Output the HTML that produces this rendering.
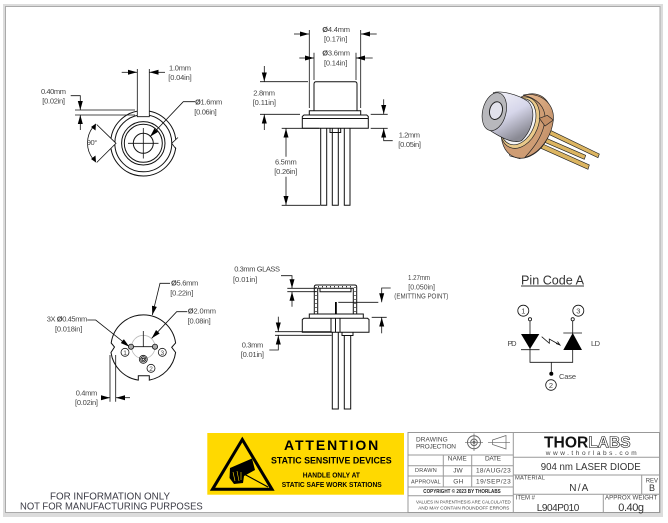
<!DOCTYPE html>
<html><head><meta charset="utf-8"><style>
html,body{margin:0;padding:0;background:#fff}
svg{display:block;filter:blur(.3px)}
text{font-family:"Liberation Sans",sans-serif;font-size:7.5px;fill:#444}
.l{stroke:#111;stroke-width:.8;fill:none}
.t{stroke:#111;stroke-width:1;fill:none}
.b{stroke:#999;stroke-width:1;fill:none}
.h text{font-size:6.5px;fill:#444}
</style></head><body>
<svg width="668" height="523" viewBox="0 0 668 523" xmlns="http://www.w3.org/2000/svg">
<defs>
<marker id="a" markerWidth="9" markerHeight="6" refX="9" refY="3" orient="auto" markerUnits="userSpaceOnUse"><path d="M0 .5L9 3L0 5.5z" fill="#000"/></marker>
<linearGradient id="cap" x1="0" y1="0" x2=".5" y2="1"><stop offset="0" stop-color="#f6f6fb"/><stop offset=".55" stop-color="#d6d6ea"/><stop offset="1" stop-color="#8a8a94"/></linearGradient>
<linearGradient id="cop" x1="0" y1="0" x2="1" y2="1"><stop offset="0" stop-color="#e8b98f"/><stop offset="1" stop-color="#b98660"/></linearGradient>
</defs>
<!-- frame -->
<rect x="0" y="0" width="668" height="523" fill="#fff"/>
<rect x="3" y="4" width="660" height="513" fill="#dcdcdc"/>
<rect x="5.5" y="6.5" width="654.5" height="506" fill="#fff" stroke="#aaa" stroke-width="1"/>

<!-- TOP-LEFT VIEW -->
<g class="t">
<circle cx="143.3" cy="143.3" r="32.7"/><circle cx="143.3" cy="143.3" r="28.5"/>
<circle cx="143.3" cy="143.3" r="21.7"/><circle cx="143.3" cy="143.3" r="19"/><circle cx="143.3" cy="143.3" r="10"/>
</g>
<path d="M137.3 105H149.3V116.7H137.3z" fill="#fff"/>
<path d="M116 143.3L105 132V155z" fill="#fff"/>
<path d="M172 143.3L180 135V152z" fill="#fff"/>
<g class="l">
<path d="M137.3 69V116.7H149.3V69"/>
<path d="M121.7 72.3H137" marker-end="url(#a)"/><path d="M165 72.3H149.5" marker-end="url(#a)"/>
<path d="M75 110H135M75 115H135"/>
<path d="M70.7 95.7H80.3V110" marker-end="url(#a)"/><path d="M80.3 130V115" marker-end="url(#a)"/>
<path d="M195 101.7H183.3L150 136.7" marker-end="url(#a)"/>
<path d="M96.7 124.5L116 143.3L96.7 162.5"/>
<path d="M93 127A26 26 0 0 0 93 159"/>
<path d="M178 137.5L171.7 143.3L176 149"/>
<path d="M128 143.3H158.5M143.3 128V158.5"/>
</g>
<path d="M91 127l5 -3.5l-.5 7zM91 159l5 3.5l-.5 -7z" fill="#000"/>
<text x="169" y="70.7" textLength="22">1.0mm</text><text x="168.3" y="80" textLength="23.4">[0.04in]</text>
<text x="41" y="94" textLength="25">0.40mm</text><text x="42.3" y="103.3" textLength="22.7">[0.02in]</text>
<text x="195" y="104.7" textLength="27.3"><tspan font-weight="bold">Ø</tspan>1.6mm</text><text x="194.3" y="114.3" textLength="22.4">[0.06in]</text>
<text x="86.7" y="145" textLength="10.6">90°</text>

<!-- TOP-MIDDLE SIDE VIEW -->
<g class="t">
<path d="M314 110.7V84Q314 81.7 316 81.7H355Q357 81.7 357 84V110.7"/>
<path d="M309.3 115V110.7H360.7V115"/>
<path d="M302.3 128.3V116.5L304 115H366.7L368.3 116.5V128.3z"/>
<path d="M302.3 118.5H368.3"/>
<path d="M320.7 128.3V205.3H326.7V128.3M332.3 128.3V205.3H338.3V128.3M344.3 128.3V205.3H350V128.3"/>
<path d="M330 128.3V132.5H340.7V128.3"/>
</g>
<g class="l">
<path d="M309.3 30V108M360.7 30V108M314 52.7V80M356 52.7V80"/>
<path d="M294 34H309" marker-end="url(#a)"/><path d="M376.7 34H361" marker-end="url(#a)"/>
<path d="M299.3 58H314" marker-end="url(#a)"/><path d="M372.7 58H356" marker-end="url(#a)"/>
<path d="M260 81.7H308M260 114.3H300"/>
<path d="M264.3 66V81.5" marker-end="url(#a)"/><path d="M264.3 130V114.5" marker-end="url(#a)"/>
<path d="M370.7 114.3H387.7M370.7 128.3H387.7"/>
<path d="M383.7 99.3V114" marker-end="url(#a)"/><path d="M392.7 140.7H383.7V128.5" marker-end="url(#a)"/>
<path d="M281.7 128.3H319M281.7 205.3H320"/>
<path d="M286 156.7V128.5" marker-end="url(#a)"/><path d="M286 176.7V205" marker-end="url(#a)"/>
</g>
<text x="322.3" y="32" textLength="27.7"><tspan font-weight="bold">Ø</tspan>4.4mm</text><text x="324" y="41.3" textLength="23.3">[0.17in]</text>
<text x="322.3" y="55.7" textLength="27.7"><tspan font-weight="bold">Ø</tspan>3.6mm</text><text x="324" y="65.3" textLength="23.3">[0.14in]</text>
<text x="253.3" y="95.3" textLength="21.7">2.8mm</text><text x="252.7" y="105" textLength="23.3">[0.11in]</text>
<text x="398.7" y="137.7" textLength="21.3">1.2mm</text><text x="398.3" y="147" textLength="22.7">[0.05in]</text>
<text x="275" y="164.7" textLength="21.7">6.5mm</text><text x="274.3" y="174" textLength="23">[0.26in]</text>

<!-- 3D PHOTO -->
<g transform="translate(460 70) scale(.3333)" stroke="#222" stroke-width="2">
<path d="M265 178L418 252L414 263L260 190z" fill="#dcb561"/>
<path d="M255 203L377 256L373 268L250 215z" fill="#dcb561"/>
<path d="M248 222L388 285L384 298L243 235z" fill="#dcb561"/>
<path d="M140 230L182 250L180 266L150 258z" fill="#fff"/>
<ellipse cx="200" cy="168" rx="72" ry="100" transform="rotate(22 200 168)" fill="#cf9d74"/>
<path d="M190 75C240 65 285 100 280 150C275 200 240 250 195 262C215 240 250 200 255 150C258 110 230 85 190 75z" fill="url(#cop)"/>
<ellipse cx="180" cy="158" rx="55" ry="80" transform="rotate(22 180 158)" fill="#e9c98a"/>
<ellipse cx="175" cy="155" rx="49" ry="72" transform="rotate(22 175 155)" fill="#f4f4f6"/>
<path d="M238 145L262 136L280 150L255 168z" fill="#c48f66"/>
<path d="M100 68C120 62 170 70 205 95C228 120 222 175 185 212C160 222 125 205 85 178L100 68z" fill="url(#cap)"/>
<ellipse cx="103" cy="125" rx="35" ry="58" transform="rotate(14 103 125)" fill="#b8b8bc"/>
<ellipse cx="108" cy="122" rx="19" ry="27" transform="rotate(14 108 122)" fill="#e2e2ec" stroke-width="3"/>
</g>

<!-- BOTTOM-LEFT VIEW -->
<path class="t" d="M111.2 343L114.5 347L111 352.5A32.5 32.5 0 0 0 138.3 380.1V375.7H149.3V380.1A32.5 32.5 0 0 0 175.6 352.5L171.7 347.3L175.6 343A32.5 32.5 0 0 0 111.2 343z"/>
<circle cx="143.3" cy="347" r="11.7" fill="none" stroke="#bbb" stroke-width=".8"/>
<g class="l">
<path d="M131 346.7H155M143.3 331V347"/>
<path d="M170 283.3H160L152.3 315" marker-end="url(#a)"/>
<path d="M187.3 311.7H176.7L151.7 338.3" marker-end="url(#a)"/>
<path d="M87.3 320H95.7L129.3 346.7" marker-end="url(#a)"/>
<path d="M110 355V401.7M115.7 355V401.7"/>
<path d="M101.7 397.7H110" marker-end="url(#a)"/><path d="M130 397.7H116" marker-end="url(#a)"/>
<circle cx="131" cy="346.7" r="2.6" fill="#aaa"/><circle cx="155" cy="346.7" r="2.6" fill="#aaa"/>
<circle cx="143.3" cy="359.3" r="4"/><circle cx="143.3" cy="359.3" r="2.6"/><circle cx="143.3" cy="359.3" r="1.2"/>
<circle cx="125" cy="352.3" r="4" fill="#fff"/><circle cx="162.3" cy="352.3" r="4" fill="#fff"/><circle cx="151" cy="368.3" r="4" fill="#fff"/>
</g>
<text x="125" y="355" text-anchor="middle" style="font-size:6.5px">1</text>
<text x="162.3" y="355" text-anchor="middle" style="font-size:6.5px">3</text>
<text x="151" y="371" text-anchor="middle" style="font-size:6.5px">2</text>
<text x="171" y="285.7" textLength="27.3"><tspan font-weight="bold">Ø</tspan>5.6mm</text><text x="170.3" y="295.3" textLength="23">[0.22in]</text>
<text x="187.7" y="313.7" textLength="28.3"><tspan font-weight="bold">Ø</tspan>2.0mm</text><text x="187.7" y="323.3" textLength="23">[0.08in]</text>
<text x="46.7" y="321.7" textLength="40.6">3X <tspan font-weight="bold">Ø</tspan>0.45mm</text><text x="55" y="331.7" textLength="27.3">[0.018in]</text>
<text x="75.7" y="395.7" textLength="21.6">0.4mm</text><text x="75" y="405" textLength="23">[0.02in]</text>

<!-- BOTTOM-MIDDLE SECTION -->
<g class="t">
<path d="M314.3 314V287Q314.3 285 316.3 285H354.7Q356.7 285 356.7 287V314"/>
<path d="M317.7 314V288.3H353.3V314"/>
<path d="M320 288.3V291.7H351V288.3"/>
<path d="M309.3 318.3V314H363.3V318.3"/>
<path d="M302.3 332.3V319.5L304 318.3H367.5L369 319.5V332.3z"/>
<path d="M331 318.3V332.3M340 318.3V332.3M335.5 318.3V332.3"/>
<path d="M332.3 332.3V409H338.3V332.3M344.3 335.5V409H350.7V335.5"/>
<path d="M342 332.3V335.5H353V332.3"/>
</g>
<path d="M316 287V314M355 287V314M318 286.7H354" stroke="#333" stroke-width="1.4" stroke-dasharray="1 3" fill="none"/>
<path d="M335 302H336.8V314H335z" fill="#000"/>
<g class="l">
<path d="M281 275.7H292V288.2" marker-end="url(#a)"/><path d="M292 306.7V291.8" marker-end="url(#a)"/>
<path d="M287.3 288.3H316.7M287.3 291.7H316.7"/>
<path d="M390.7 288H381.7V302.2" marker-end="url(#a)"/>
<path d="M338.3 302.3H378.3M371.7 317.3H386.7"/>
<path d="M381.7 333.3V317.5" marker-end="url(#a)"/>
<path d="M275 331.7H331.7M275 335.3H331.7"/>
<path d="M278.3 316.7V331.5" marker-end="url(#a)"/><path d="M269.3 350H278.3V335.5" marker-end="url(#a)"/>
</g>
<text x="234.3" y="271.7" textLength="45.7">0.3mm  GLASS</text><text x="233" y="282" textLength="24.3">[0.01in]</text>
<text x="408" y="280" textLength="22" lengthAdjust="spacingAndGlyphs">1.27mm</text><text x="408.3" y="289.3" textLength="26.7" lengthAdjust="spacingAndGlyphs">[0.050in]</text>
<text x="394.3" y="298.3" textLength="54" lengthAdjust="spacingAndGlyphs" style="font-size:7px">(EMITTING POINT)</text>
<text x="241.7" y="347.3" textLength="21.6">0.3mm</text><text x="240.7" y="357" textLength="23.3">[0.01in]</text>

<!-- PIN CODE -->
<text x="521" y="284.5" textLength="63" lengthAdjust="spacingAndGlyphs" style="font-size:13px;fill:#333">Pin Code A</text>
<path d="M521 286H584" stroke="#333" stroke-width=".9"/>
<g class="l" stroke-width="1">
<circle cx="523.3" cy="310.7" r="5.5"/><circle cx="578.3" cy="310.7" r="5.5"/><circle cx="551" cy="385" r="5.3"/>
<circle cx="530" cy="319.3" r="1.6"/><circle cx="572.7" cy="319.3" r="1.6"/>
<path d="M530 321V362.3H572.7V321M551.3 362.3V373M521 349.7H539.5M563.3 333H582"/>
<path d="M541.7 336.7L549.3 343.3V339L560 345M556 343.5L560 345L557.5 341.5"/>
</g>
<path d="M521 334H539.3L530 349zM563.3 350H582L572.7 333z" fill="#000"/>
<circle cx="551.3" cy="373.7" r="2" fill="#000"/>
<text x="523.3" y="313.5" text-anchor="middle" style="font-size:7.5px">1</text>
<text x="578.3" y="313.5" text-anchor="middle" style="font-size:7.5px">3</text>
<text x="551" y="387.8" text-anchor="middle" style="font-size:7.5px">2</text>
<text x="507.5" y="346" textLength="9">PD</text><text x="591" y="346" textLength="9">LD</text>
<text x="559" y="379" textLength="17">Case</text>

<!-- ESD LABEL -->
<rect x="207.3" y="433" width="196.7" height="61.7" fill="#ffd900"/>
<path d="M242.3 439.5L272 489.3H212.5z" fill="none" stroke="#000" stroke-width="3"/>
<path d="M230 468L252 458.5L255 470L244 476L243 483L234 484L229.5 478z" fill="#000"/>
<path d="M233 472L235 481M237 471L239 481M241 472L241 480" stroke="#ffd900" stroke-width=".6"/>
<path d="M244 474L268 487" stroke="#000" stroke-width="1.2"/>
<g style="font-weight:bold">
<text x="284" y="450" textLength="94.3" lengthAdjust="spacing" style="font-size:14px;fill:#000;font-weight:bold">ATTENTION</text>
<text x="271" y="463.3" textLength="120.7" lengthAdjust="spacingAndGlyphs" style="font-size:9.5px;fill:#000;font-weight:bold">STATIC SENSITIVE DEVICES</text>
<text x="302.7" y="477.3" textLength="57.3" lengthAdjust="spacingAndGlyphs" style="font-size:7px;fill:#000;font-weight:bold">HANDLE ONLY AT</text>
<text x="281.7" y="487" textLength="100" lengthAdjust="spacingAndGlyphs" style="font-size:7px;fill:#000;font-weight:bold">STATIC SAFE WORK STATIONS</text>
</g>

<!-- TITLE BLOCK -->
<g class="b">
<rect x="408" y="432.5" width="251.5" height="80"/>
<path d="M513.3 432.5V512.5M408 455H513.3M408 465.7H513.3M408 476H513.3M408 487H513.3M408 495.7H513.3M443.3 455V487M471.7 455V487"/>
<path d="M513.3 457.3H659.5M513.3 475H659.5M513.3 494.3H659.5M641.7 475V494.3M603.3 494.3V512.5"/>
<circle cx="474" cy="442.3" r="6.5" stroke="#666"/><circle cx="474" cy="442.3" r="3.3" stroke="#666"/><circle cx="474" cy="442.3" r="1" stroke="#666"/>
<path d="M465 442.3H483M474 433.5V451M492.5 440L506 435.5V449L492.5 444.5zM488 442.3H510" stroke="#666" stroke-width=".7"/>
</g>
<g class="h">
<text x="416" y="441.7" textLength="31.7">DRAWING</text><text x="416" y="448.7" textLength="40">PROJECTION</text>
<text x="447.7" y="460.7" textLength="19">NAME</text><text x="485" y="460.7" textLength="16">DATE</text>
<text x="415" y="472" textLength="21.7" style="font-size:5.5px">DRAWN</text><text x="453.3" y="472.3" textLength="9.4">JW</text><text x="476" y="472.3" textLength="34.7">18/AUG/23</text>
<text x="411" y="483.7" textLength="29.7" style="font-size:5.5px">APPROVAL</text><text x="453.3" y="483.7" textLength="10">GH</text><text x="476" y="483.7" textLength="34.7">19/SEP/23</text>
<text x="423.3" y="493" textLength="77.4" lengthAdjust="spacingAndGlyphs" style="font-size:5px;font-weight:bold;fill:#222">COPYRIGHT © 2023 BY THORLABS</text>
<text x="416" y="503.3" textLength="94.7" lengthAdjust="spacingAndGlyphs" style="font-size:4.6px">VALUES IN PARENTHESIS ARE CALCULATED</text>
<text x="418.3" y="509.7" textLength="91" lengthAdjust="spacingAndGlyphs" style="font-size:4.6px">AND MAY CONTAIN ROUNDOFF ERRORS</text>
<text x="544" y="447.7" textLength="44.3" lengthAdjust="spacingAndGlyphs" style="font-size:16px;font-weight:bold;fill:#111">THOR</text>
<text x="588.3" y="447.7" textLength="42.4" lengthAdjust="spacingAndGlyphs" style="font-size:16px;font-weight:bold;fill:#fff;stroke:#111;stroke-width:.6">LABS</text>
<text x="545.7" y="455" textLength="91" lengthAdjust="spacing" style="font-size:6.5px">www.thorlabs.com</text>
<text x="540.7" y="470" textLength="100" lengthAdjust="spacingAndGlyphs" style="font-size:10.5px;fill:#333">904 nm LASER DIODE</text>
<text x="515" y="479.7" textLength="30" style="font-size:5.8px">MATERIAL</text>
<text x="569.3" y="491" textLength="19" style="font-size:10px;fill:#333">N/A</text>
<text x="645.7" y="482.3" textLength="12.3" style="font-size:6px">REV</text><text x="649" y="491" textLength="6" style="font-size:9px;fill:#333">B</text>
<text x="515.7" y="499.7" textLength="19.3" style="font-size:6px">ITEM #</text>
<text x="536.7" y="511" textLength="42.6" style="font-size:10px;fill:#333">L904P010</text>
<text x="605" y="499.7" textLength="52.3" lengthAdjust="spacingAndGlyphs" style="font-size:6.3px">APPROX WEIGHT</text>
<text x="618.3" y="511" textLength="25.7" style="font-size:11px;fill:#333">0.40g</text>
</g>

<!-- NOTE -->
<text x="50" y="499.3" textLength="120" lengthAdjust="spacingAndGlyphs" style="font-size:10.5px;fill:#3a3a44">FOR INFORMATION ONLY</text>
<text x="20" y="509.3" textLength="182.7" lengthAdjust="spacingAndGlyphs" style="font-size:10.5px;fill:#3a3a44">NOT FOR MANUFACTURING PURPOSES</text>
</svg>
</body></html>
